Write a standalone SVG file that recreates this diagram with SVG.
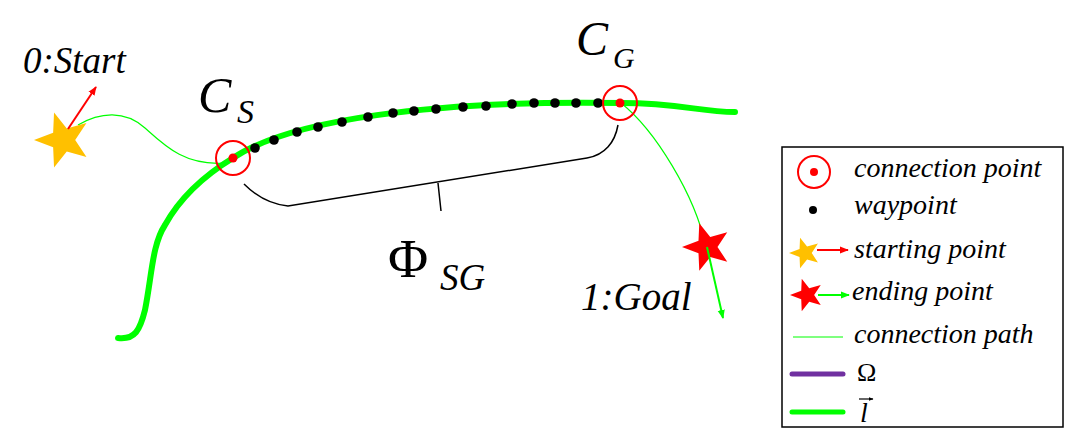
<svg xmlns="http://www.w3.org/2000/svg" xmlns:xlink="http://www.w3.org/1999/xlink" width="1069" height="432" viewBox="0 0 1069 432">
<style>
.thick{fill:none;stroke:#00FF00;stroke-width:6;stroke-linecap:round}
.thin{fill:none;stroke:#00FF00;stroke-width:1.2}
.cring{fill:none;stroke:#FF0000;stroke-width:2}
.cdot{fill:#FF0000}
.wp{fill:#000}
.brk{fill:none;stroke:#000;stroke-width:1.5}
</style>
<defs>
<path id="star" d="M-10,0 L-3.4,-2.47 L-3.09,-9.51 L1.3,-3.99 L8.09,-5.88 L4.2,0 L8.09,5.88 L1.3,3.99 L-3.09,9.51 L-3.4,2.47 Z"/>
<marker id="ar" viewBox="0 0 10 10" refX="9" refY="5" markerWidth="9" markerHeight="9" markerUnits="userSpaceOnUse" orient="auto"><path d="M0,1 L10,5 L0,9 Z" fill="#FF0000"/></marker>
<marker id="ag" viewBox="0 0 10 10" refX="9" refY="5" markerWidth="9" markerHeight="9" markerUnits="userSpaceOnUse" orient="auto"><path d="M0,1 L10,5 L0,9 Z" fill="#00FF00"/></marker>
<marker id="ak" viewBox="0 0 10 10" refX="9" refY="5" markerWidth="5" markerHeight="5" markerUnits="userSpaceOnUse" orient="auto"><path d="M0,1 L10,5 L0,9 Z" fill="#000"/></marker>
</defs>
<rect width="1069" height="432" fill="#fff"/>

<g id="connectors">
<path id="l-curve" class="thick" d="M118,338 C135,340 140,330 145,310 C152,275 152,245 165,225 C180,198 205,175 233,158 C290,120 430,100 621,103 C680,103 700,112 735,112"/>
<path id="path-start" class="thin" d="M78,125 C100,112 125,110 145,128 C165,146 185,166 225,163"/>
<path id="path-goal" class="thin" d="M621,103 C655,130 695,195 706,247"/>
<path id="bracket" class="brk" d="M244,184 C255,195 268,204 288,206 L587,158 C605,155 615,142 618,125 M438,183 L441,211"/>
</g>

<g id="waypoints">
<circle class="wp" cx="255" cy="148" r="4.8"/>
<circle class="wp" cx="274" cy="140" r="4.8"/>
<circle class="wp" cx="297" cy="132" r="4.8"/>
<circle class="wp" cx="318" cy="127" r="4.8"/>
<circle class="wp" cx="342" cy="122" r="4.8"/>
<circle class="wp" cx="368" cy="117" r="4.8"/>
<circle class="wp" cx="393" cy="113" r="4.8"/>
<circle class="wp" cx="414" cy="111" r="4.8"/>
<circle class="wp" cx="436" cy="109" r="4.8"/>
<circle class="wp" cx="463" cy="107" r="4.8"/>
<circle class="wp" cx="486" cy="106" r="4.8"/>
<circle class="wp" cx="512" cy="104" r="4.8"/>
<circle class="wp" cx="534" cy="103" r="4.8"/>
<circle class="wp" cx="555" cy="103" r="4.8"/>
<circle class="wp" cx="576" cy="103" r="4.8"/>
<circle class="wp" cx="598" cy="103" r="4.8"/>
</g>

<g id="start">
<use xlink:href="#star" href="#star" transform="translate(63,140) scale(2.9)" fill="#FFC000"/>
<line x1="68" y1="129" x2="96" y2="87" stroke="#FF0000" stroke-width="2" marker-end="url(#ar)"/>
<text x="23" y="73" font-size="37" font-family="Liberation Serif, Tinos, Times New Roman, DejaVu Serif, Noto Serif, serif" font-style="italic">0:Start</text>
</g>

<g id="cs">
<circle class="cring" cx="233" cy="158" r="17"/>
<circle class="cdot" cx="233" cy="158" r="4.5"/>
<text x="198" y="112" font-size="50" font-family="Liberation Serif, Tinos, Times New Roman, DejaVu Serif, Noto Serif, serif" font-style="italic">C</text>
<text x="237" y="123" font-size="34" font-family="Liberation Serif, Tinos, Times New Roman, DejaVu Serif, Noto Serif, serif" font-style="italic">S</text>
</g>

<g id="cg">
<circle class="cring" cx="620" cy="103" r="17"/>
<circle class="cdot" cx="620" cy="103" r="4.5"/>
<text x="576" y="55" font-size="48" font-family="Liberation Serif, Tinos, Times New Roman, DejaVu Serif, Noto Serif, serif" font-style="italic">C</text>
<text x="613" y="68" font-size="30" font-family="Liberation Serif, Tinos, Times New Roman, DejaVu Serif, Noto Serif, serif" font-style="italic">G</text>
</g>

<g id="goal">
<use xlink:href="#star" href="#star" transform="translate(707,247) scale(2.5)" fill="#FF0000"/>
<line x1="707" y1="247" x2="723" y2="318" stroke="#00FF00" stroke-width="2" marker-end="url(#ag)"/>
<text x="581" y="310" font-size="39" font-family="Liberation Serif, Tinos, Times New Roman, DejaVu Serif, Noto Serif, serif" font-style="italic">1:Goal</text>
</g>

<g id="phi">
<text x="388" y="277" font-size="55" font-family="Liberation Serif, Tinos, Times New Roman, DejaVu Serif, Noto Serif, serif">Φ</text>
<text x="440" y="290" font-size="37" font-family="Liberation Serif, Tinos, Times New Roman, DejaVu Serif, Noto Serif, serif" font-style="italic">SG</text>
</g>

<g id="legend" font-family="Liberation Serif, Tinos, Times New Roman, DejaVu Serif, Noto Serif, serif" font-size="28">
<rect x="782" y="147" width="281" height="280" fill="#fff" stroke="#000" stroke-width="1.5"/>
<circle class="cring" cx="814" cy="172" r="16"/>
<circle class="cdot" cx="814" cy="172" r="4"/>
<text x="854" y="177" font-style="italic">connection point</text>
<circle class="wp" cx="813" cy="210" r="4"/>
<text x="854" y="214" font-style="italic">waypoint</text>
<use xlink:href="#star" href="#star" transform="translate(805,253) scale(1.6)" fill="#FFC000"/>
<line x1="817" y1="250" x2="848" y2="250" stroke="#FF0000" stroke-width="2" marker-end="url(#ar)"/>
<text x="854" y="258" font-style="italic">starting point</text>
<use xlink:href="#star" href="#star" transform="translate(807,295) scale(1.7)" fill="#FF0000"/>
<line x1="818" y1="295" x2="849" y2="295" stroke="#00FF00" stroke-width="2" marker-end="url(#ag)"/>
<text x="852" y="300" font-style="italic">ending point</text>
<line x1="793" y1="337" x2="843" y2="337" stroke="#00FF00" stroke-width="1.2"/>
<text x="854" y="343" font-style="italic">connection path</text>
<line x1="792" y1="374" x2="843" y2="374" stroke="#7030A0" stroke-width="5" stroke-linecap="round"/>
<text x="857" y="381" font-size="26">Ω</text>
<line x1="792" y1="412" x2="843" y2="412" stroke="#00FF00" stroke-width="5" stroke-linecap="round"/>
<text x="860" y="422" font-style="italic">l</text>
<line x1="859" y1="399" x2="873" y2="399" stroke="#000" stroke-width="1.2" marker-end="url(#ak)"/>
</g>
</svg>
